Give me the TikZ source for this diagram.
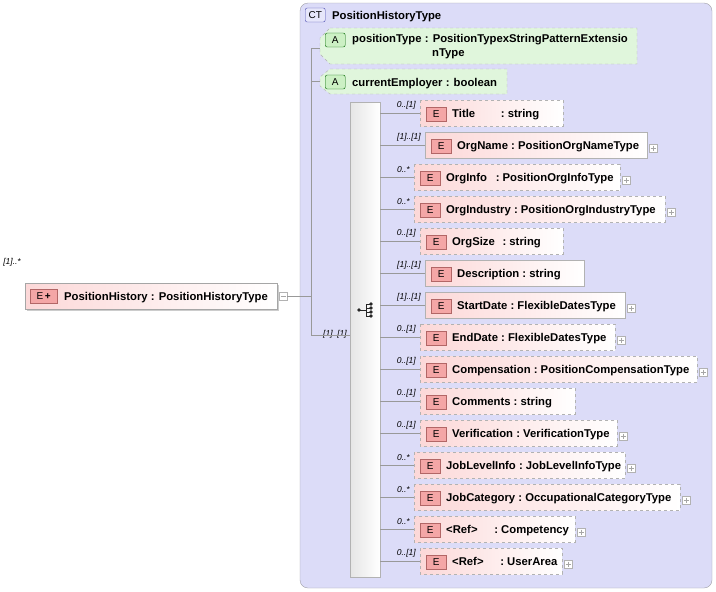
\documentclass[tikz,border=0pt]{standalone}
\usepackage{fontspec}
\setmainfont{Liberation Sans}
\usetikzlibrary{calc}
\definecolor{ctfill}{HTML}{DCDCF8}
\definecolor{ctline}{HTML}{A0A0A8}
\definecolor{pinkf}{HTML}{FCD8D8}
\definecolor{badge}{HTML}{F08080}
\definecolor{greenf}{HTML}{CCF0C4}
\tikzset{
  x=1pt,y=-1pt,
  lbl/.style={font=\fontsize{11.3}{13}\selectfont\bfseries,inner sep=0,anchor=base west},
  mult/.style={font=\fontsize{8.5}{10}\selectfont\itshape,inner sep=0,anchor=south east},
  optl/.style={dashed,draw=gray!60},
  conn/.style={draw=gray!80,line width=0.6pt},
  plusbox/.style={draw=gray!60,fill=white,minimum size=8pt,inner sep=0},
  bdg/.style={minimum width=20pt,minimum height=14pt,inner sep=0,font=\fontsize{10}{11}\selectfont,anchor=west},
}
\newcommand{\ebadge}[3]{% x y name
  \node[bdg,draw=red!50!black!60,fill=badge!70] (#3) at (#1,#2) {E};}
\begin{document}
\begin{tikzpicture}
\useasboundingbox (0,0) rectangle (716,592);
% complex type box
\draw[ctline,fill=ctfill,rounded corners=8pt] (300,3) rectangle (712,588);
\node[bdg,draw=gray!60!blue,fill=ctfill!70,rounded corners=2pt] (ct) at (305,15) {CT};
\node[lbl] (cttitle) at (332,19) {PositionHistoryType};
% connector trunk
\coordinate (trtop) at (311,48);
\coordinate (trbot) at (311,335);
\draw[conn] (trtop) -- (trbot);
% attributes
\draw[optl,fill=greenf!60] (330,28) -- (637,28) -- (637,64) -- (330,64) -- (320,54) -- (320,38) -- cycle;
\draw[optl,fill=greenf!60] (330,69) -- (507,69) -- (507,94) -- (330,94) -- (320,86) -- (320,77) -- cycle;
\node[bdg,draw=green!40!black,fill=greenf,rounded corners=2pt] (aA) at (325,40) {A};
\node[bdg,draw=green!40!black,fill=greenf,rounded corners=2pt] (aB) at (325,82) {A};
\node[lbl] (attr1) at (352,42) {positionType : PositionTypexStringPatternExtensio};
\node[lbl] (attr1b) at (432,56) {nType};
\node[lbl] (attr2) at (352,86) {currentEmployer : boolean};
\draw[conn] (311,48) -- (320,48);
\draw[conn] (311,81) -- (320,81);
% main element
\fill[gray!40] (27,285) rectangle (279,311);
\draw[draw=gray!70,left color=pinkf,right color=white] (25,283) rectangle (277,309);
\node[bdg,minimum width=27pt,draw=red!50!black!60,fill=badge!70] (mainb) at (30,296) {E\,\textbf{+}};
\node[lbl] (main) at (64,300) {PositionHistory : PositionHistoryType};
\node[mult] (mainm) at (21,266) {[1]..*};
\node[plusbox] (mainminus) at (283,296) {};
\draw[gray!70] (280.5,296) -- (285.5,296);
\draw[conn] (mainminus) -- (311,296);
% sequence bar
\shade[left color=gray!20,right color=white,draw=gray!60] (350,102) rectangle (380,577);
\node[mult] (seqm) at (347,338) {[1]..[1]};
\draw[conn] (trbot) -- (350,335);
% sequence symbol
\fill[gray!30!black] (359,310) circle[radius=1.8] (371,304) circle[radius=1.8] (371,308) circle[radius=1.8] (371,312) circle[radius=1.8] (371,316) circle[radius=1.8];
\draw[gray!30!black,line width=0.7pt] (359,310) -- (366,310) (366,304) -- (366,316) (366,304) -- (371,304) (366,308) -- (371,308) (366,312) -- (371,312) (366,316) -- (371,316);
% elements
\foreach \i/\y/\l/\r/\st/\nm/\ty/\mu/\pl in {
 1/113/420/563/optl/{Title\hspace{2em}}/string/0..[1]/0,
 2/145/425/647/solid/OrgName/PositionOrgNameType/[1]..[1]/1,
 3/177/414/620/optl/{OrgInfo\hspace{0.5em}}/PositionOrgInfoType/0..*/1,
 4/209/414/665/optl/OrgIndustry/PositionOrgIndustryType/0..*/1,
 5/241/420/563/optl/{OrgSize\hspace{0.4em}}/string/0..[1]/0,
 6/273/425/584/solid/Description/string/[1]..[1]/0,
 7/305/425/625/solid/StartDate/FlexibleDatesType/[1]..[1]/1,
 8/337/420/615/optl/EndDate/FlexibleDatesType/0..[1]/1,
 9/369/420/697/optl/Compensation/PositionCompensationType/0..[1]/1,
 10/401/420/575/optl/Comments/string/0..[1]/0,
 11/433/420/617/optl/Verification/VerificationType/0..[1]/1,
 12/465/414/625/optl/JobLevelInfo/JobLevelInfoType/0..*/1,
 13/497/414/680/optl/JobCategory/OccupationalCategoryType/0..*/1,
 14/529/414/575/optl/{<Ref>\hspace{1.2em}}/Competency/0..*/1,
 15/561/420/562/optl/{<Ref>\hspace{1.2em}}/UserArea/0..[1]/1}
{
  \draw[\st,draw=gray!60,left color=pinkf,right color=white] (\l,\y-13) rectangle (\r,\y+13);
  \ebadge{\l+6}{\y+1}{b\i}
  \node[lbl] (e\i) at (\l+32,\y+4) {\nm\ :\ \ty};
  \node[mult] (m\i) at (\l-4,\y-4) {\mu};
  \draw[conn] (380,\y) -- (\l,\y);
  \ifnum\pl=1
    \node[plusbox] (p\i) at (\r+6,\y+3) {};
    \draw[gray!70,line width=0.4pt] (\r+3.5,\y+3) -- (\r+8.5,\y+3) (\r+6,\y+0.5) -- (\r+6,\y+5.5);
  \fi
}
\end{tikzpicture}
\end{document}
